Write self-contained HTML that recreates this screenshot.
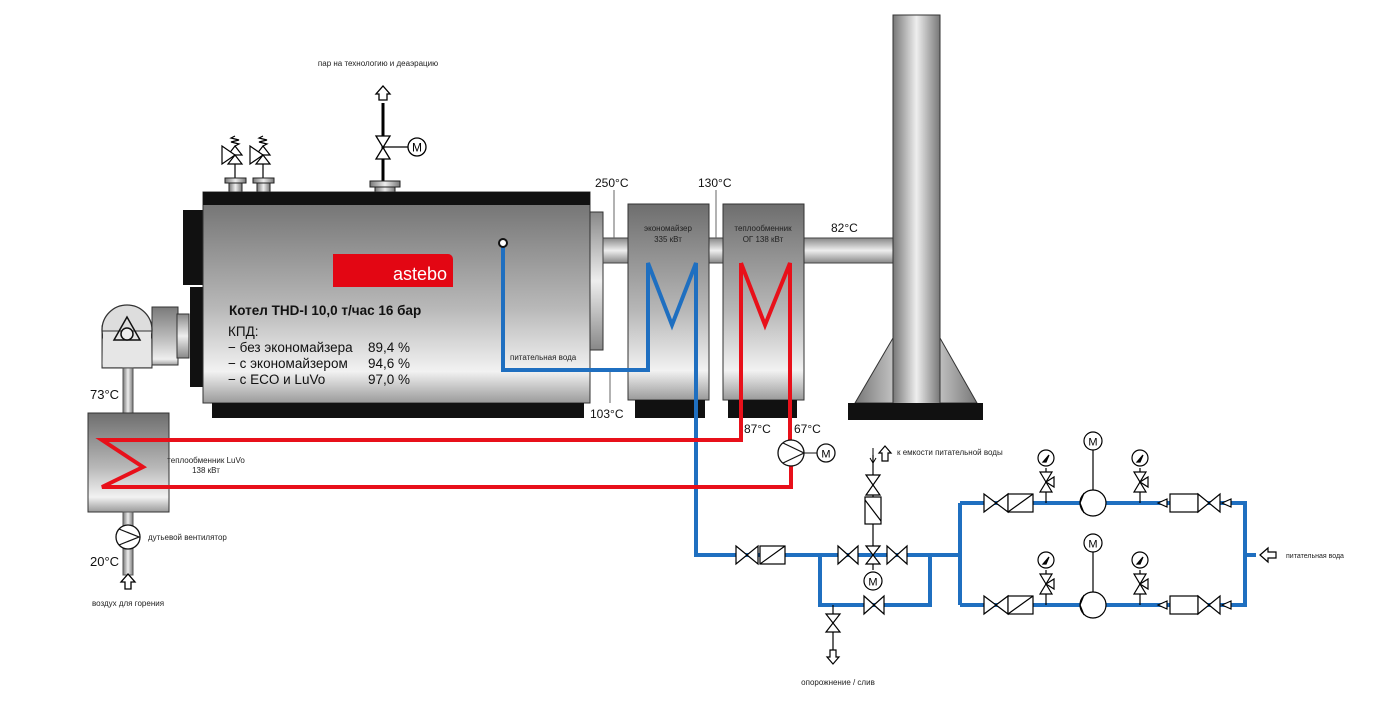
<!DOCTYPE html>
<html><head><meta charset="utf-8"><style>
html,body{margin:0;padding:0;background:#fff;}
svg{display:block;font-family:"Liberation Sans","DejaVu Sans",sans-serif;}
</style></head><body>
<svg width="1386" height="707" viewBox="0 0 1386 707" xmlns="http://www.w3.org/2000/svg">
<defs>
<linearGradient id="gv" x1="0" y1="0" x2="0" y2="1">
<stop offset="0" stop-color="#6e6e6e"/><stop offset="0.55" stop-color="#b8b8b8"/><stop offset="0.85" stop-color="#f2f2f2"/><stop offset="1" stop-color="#9a9a9a"/></linearGradient>
<linearGradient id="gb" x1="0" y1="0" x2="0" y2="1">
<stop offset="0" stop-color="#7a7a7a"/><stop offset="0.6" stop-color="#c4c4c4"/><stop offset="0.9" stop-color="#efefef"/><stop offset="1" stop-color="#a0a0a0"/></linearGradient>
<linearGradient id="gp" x1="0" y1="0" x2="0" y2="1">
<stop offset="0" stop-color="#888"/><stop offset="0.5" stop-color="#eee"/><stop offset="1" stop-color="#888"/></linearGradient>
<linearGradient id="gh" x1="0" y1="0" x2="1" y2="0">
<stop offset="0" stop-color="#777"/><stop offset="0.5" stop-color="#eee"/><stop offset="1" stop-color="#777"/></linearGradient>
</defs>

<text x="378" y="66" font-size="8" text-anchor="middle" fill="#222">пар на технологию и деаэрацию</text>
<path d="M383,100 l-4,0 l0,-6 l-3,0 l7,-8 l7,8 l-3,0 l0,6 z" fill="#fff" stroke="#000" stroke-width="1.3"/>
<line x1="383" y1="103" x2="383" y2="182" stroke="#000" stroke-width="3"/>
<polygon points="376,136 390,136 376,159 390,159" fill="#fff" stroke="#000" stroke-width="1.3"/>
<line x1="383" y1="147" x2="408" y2="147" stroke="#000" stroke-width="1.2"/>
<circle cx="417" cy="147" r="9" fill="#fff" stroke="#000" stroke-width="1.3"/>
<text x="417" y="151.5" font-size="12" text-anchor="middle">M</text>
<rect x="370" y="181" width="30" height="6" fill="url(#gh)" stroke="#222"/>
<rect x="375" y="187" width="20" height="6" fill="url(#gh)" stroke="#222"/>

<g stroke="#000" stroke-width="1.2" fill="#fff">
<path d="M235,136 l-4,2 l8,2 l-8,2 l8,2 l-4,2"/>
<polygon points="228,155 242,155 235,146"/><polygon points="222,146 222,164 235,155"/>
<polygon points="228,164 242,164 235,155" />
<line x1="235" y1="164" x2="235" y2="178"/>
<path d="M263,136 l-4,2 l8,2 l-8,2 l8,2 l-4,2"/>
<polygon points="256,155 270,155 263,146"/><polygon points="250,146 250,164 263,155"/>
<polygon points="256,164 270,164 263,155"/>
<line x1="263" y1="164" x2="263" y2="178"/>
</g>
<rect x="225" y="178" width="21" height="5" fill="url(#gh)" stroke="#222"/>
<rect x="229" y="183" width="13" height="9" fill="url(#gh)" stroke="#222"/>
<rect x="253" y="178" width="21" height="5" fill="url(#gh)" stroke="#222"/>
<rect x="257" y="183" width="13" height="9" fill="url(#gh)" stroke="#222"/>

<rect x="183" y="210" width="21" height="75" fill="#111"/>
<rect x="190" y="287" width="14" height="100" fill="#111"/>
<rect x="203" y="192" width="387" height="211" fill="url(#gv)" stroke="#333"/>
<rect x="203" y="192" width="387" height="13" fill="#111"/>
<rect x="212" y="403" width="372" height="15" fill="#111"/>
<rect x="590" y="212" width="13" height="138" fill="url(#gp)" stroke="#333"/>
<path d="M333,254 h115 a5,5 0 0 1 5,5 v28 h-120 z" fill="#e30613"/>
<text x="447" y="280" font-size="18" fill="#fff" text-anchor="end">astebo</text>
<text x="229" y="315" font-size="13.5" font-weight="bold" fill="#111">Котел THD-I 10,0 т/час 16 бар</text>
<text x="228" y="336" font-size="13.5" fill="#111">КПД:</text>
<g font-size="13.5" fill="#111">
<text x="228" y="352">−  без экономайзера</text><text x="368" y="352">89,4 %</text>
<text x="228" y="368">−  с экономайзером</text><text x="368" y="368">94,6 %</text>
<text x="228" y="384">−  с ECO и LuVo</text><text x="368" y="384">97,0 %</text>
</g>

<rect x="152" y="307" width="26" height="58" fill="url(#gb)" stroke="#333"/>
<rect x="177" y="314" width="12" height="44" fill="url(#gp)" stroke="#333"/>
<rect x="102" y="326" width="50" height="42" fill="url(#gb)" stroke="#333"/>
<circle cx="127" cy="330" r="25" fill="#ddd" stroke="#333" stroke-width="1.3"/>
<rect x="103" y="331" width="48" height="36" fill="#e6e6e6" stroke="none"/>
<line x1="102" y1="331" x2="152" y2="331" stroke="#333"/>
<polygon points="127,317 114,340 140,340" fill="none" stroke="#111" stroke-width="1.5"/>
<circle cx="127" cy="334" r="6" fill="#eee" stroke="#111" stroke-width="1.5"/>
<rect x="123" y="368" width="10" height="45" fill="url(#gh)" stroke="#555"/>
<text x="90" y="399" font-size="13" fill="#111">73°C</text>

<rect x="88" y="413" width="81" height="99" fill="url(#gv)" stroke="#333"/>
<text x="206" y="463" font-size="8" text-anchor="middle" fill="#222">теплообменник LuVo</text>
<text x="206" y="473" font-size="8" text-anchor="middle" fill="#222">138 кВт</text>
<rect x="123" y="512" width="10" height="63" fill="url(#gh)" stroke="#555"/>
<circle cx="128" cy="537" r="12" fill="#fff" stroke="#111" stroke-width="1.3"/>
<path d="M119,529 L139,537 L119,545" fill="none" stroke="#111" stroke-width="1.2"/>
<text x="148" y="540" font-size="8" fill="#222">дутьевой вентилятор</text>
<text x="90" y="566" font-size="13" fill="#111">20°C</text>
<path d="M128,574 l-7,8 l4,0 l0,7 l6,0 l0,-7 l4,0 z" fill="#fff" stroke="#000" stroke-width="1.3"/>
<text x="128" y="606" font-size="8" text-anchor="middle" fill="#222">воздух для горения</text>

<rect x="603" y="238" width="25" height="25" fill="url(#gp)" stroke="#444"/>
<rect x="709" y="238" width="14" height="25" fill="url(#gp)" stroke="#444"/>
<rect x="804" y="238" width="90" height="25" fill="url(#gp)" stroke="#444"/>
<rect x="628" y="204" width="81" height="196" fill="url(#gv)" stroke="#333"/>
<rect x="635" y="400" width="70" height="18" fill="#111"/>
<rect x="723" y="204" width="81" height="196" fill="url(#gv)" stroke="#333"/>
<rect x="728" y="400" width="69" height="18" fill="#111"/>
<text x="668" y="231" font-size="8" text-anchor="middle" fill="#222">экономайзер</text>
<text x="668" y="242" font-size="8" text-anchor="middle" fill="#222">335 кВт</text>
<text x="763" y="231" font-size="8" text-anchor="middle" fill="#222">теплообменник</text>
<text x="763" y="242" font-size="8" text-anchor="middle" fill="#222">ОГ 138 кВт</text>
<g stroke="#666" stroke-width="1"><line x1="614" y1="190" x2="614" y2="238"/><line x1="716" y1="190" x2="716" y2="238"/><line x1="610" y1="370" x2="610" y2="403"/></g>
<text x="595" y="187" font-size="12" fill="#111">250°C</text>
<text x="698" y="187" font-size="12" fill="#111">130°C</text>
<text x="831" y="232" font-size="12" fill="#111">82°C</text>
<text x="590" y="418" font-size="12" fill="#111">103°C</text>

<polygon points="893,338 855,403 977,403 940,338" fill="url(#gh)" stroke="#333"/>
<rect x="893" y="15" width="47" height="390" fill="url(#gh)" stroke="#333"/>
<rect x="848" y="403" width="135" height="17" fill="#111"/>

<g fill="none" stroke="#1f6fc0" stroke-width="4" stroke-linejoin="miter">
<path d="M503,247 V370 H648 V263 L672,325 L696,263 V555 H960"/>
<path d="M820,555 V605 H930 V555"/>
<path d="M960,503 V605 M960,503 H1245 V605 H960 M1245,555 H1256"/>
</g>
<circle cx="503" cy="243" r="4" fill="#fff" stroke="#111" stroke-width="2"/>
<text x="510" y="360" font-size="8" fill="#222">питательная вода</text>

<g fill="none" stroke="#e8101a" stroke-width="4">
<path d="M741,263 L765,325 L790,263 V440"/>
<path d="M741,263 V440 H168"/>
<path d="M168,440 H102 L143,467 L102,487 H168"/>
<path d="M168,487 H791 V466"/>
</g>
<text x="744" y="433" font-size="12" fill="#111">87°C</text>
<text x="794" y="433" font-size="12" fill="#111">67°C</text>
<circle cx="791" cy="453" r="13" fill="#fff" stroke="#111" stroke-width="1.3"/>
<path d="M783,443 L804,453 L783,463" fill="none" stroke="#111" stroke-width="1.2"/>
<line x1="804" y1="453" x2="817" y2="453" stroke="#111"/>
<circle cx="826" cy="453" r="9" fill="#fff" stroke="#111" stroke-width="1.3"/>
<text x="826" y="457.5" font-size="11" text-anchor="middle">M</text>

<g stroke="#000" stroke-width="1.2" fill="#fff">
<polygon points="736,546 758,564 758,546 736,564"/>
<rect x="760" y="546" width="25" height="18"/><line x1="760" y1="564" x2="785" y2="546"/>
<line x1="873" y1="455" x2="873" y2="570"/>
<polygon points="866,475 880,475 866,495 880,495"/>
<rect x="865" y="497" width="16" height="27"/><line x1="865" y1="500" x2="881" y2="521"/>
<polygon points="838,546 858,564 858,546 838,564"/>
<polygon points="887,546 907,564 907,546 887,564"/>
<polygon points="866,546 880,546 873,555"/><polygon points="866,564 880,564 873,555"/>
<circle cx="873" cy="581" r="9"/>
<polygon points="864,596 884,614 884,596 864,614"/>
<line x1="833" y1="605" x2="833" y2="650"/>
<polygon points="826,614 840,614 826,632 840,632"/>
</g>
<text x="873" y="585.5" font-size="11" text-anchor="middle">M</text>
<path d="M873,448 v14 M870,458 l3,5 l3,-5" fill="none" stroke="#000"/>
<path d="M885,446 l-6,7 l3,0 l0,8 l6,0 l0,-8 l3,0 z" fill="#fff" stroke="#000" stroke-width="1.2"/>
<text x="897" y="455" font-size="8" fill="#222">к емкости питательной воды</text>
<path d="M833,664 l-6,-7 l3,0 l0,-7 l6,0 l0,7 l3,0 z" fill="#fff" stroke="#000" stroke-width="1.2"/>
<text x="838" y="685" font-size="8" text-anchor="middle" fill="#222">опорожнение / слив</text>

<g id="row1" stroke="#000" stroke-width="1.2" fill="#fff">
<polygon points="984,494 1008,512 1008,494 984,512"/>
<rect x="1008" y="494" width="25" height="18"/><line x1="1008" y1="512" x2="1033" y2="494"/>
<line x1="1046" y1="503" x2="1046" y2="468"/>
<polygon points="1040,472 1052,472 1040,492 1052,492"/><polygon points="1046,482 1054,477 1054,487"/>
<circle cx="1046" cy="458" r="8"/>
<line x1="1093" y1="490" x2="1093" y2="450"/>
<circle cx="1093" cy="441" r="9"/>
<circle cx="1093" cy="503" r="13"/><path d="M1084,493 L1080,503 L1084,513" fill="none"/>
<line x1="1140" y1="503" x2="1140" y2="468"/>
<polygon points="1134,472 1146,472 1134,492 1146,492"/><polygon points="1140,482 1148,477 1148,487"/>
<circle cx="1140" cy="458" r="8"/>
<polygon points="1158,503 1167,499 1167,507"/>
<rect x="1170" y="494" width="28" height="18"/>
<polygon points="1198,494 1220,512 1220,494 1198,512"/>
<polygon points="1222,503 1231,499 1231,507"/>
</g>
<g stroke="#000" stroke-width="1.2" fill="#111"><path d="M1043,462 l6,-7 l-3,7 z M1137,462 l6,-7 l-3,7 z"/></g>
<text x="1093" y="445.5" font-size="11" text-anchor="middle">M</text>
<use href="#row1" y="102"/>
<g stroke="#000" stroke-width="1.2" fill="#111"><path d="M1043,564 l6,-7 l-3,7 z M1137,564 l6,-7 l-3,7 z"/></g>
<text x="1093" y="547.5" font-size="11" text-anchor="middle">M</text>
<path d="M1260,555 l8,-7 l0,4 l8,0 l0,6 l-8,0 l0,4 z" fill="#fff" stroke="#000" stroke-width="1.2"/>
<text x="1286" y="558" font-size="7" fill="#222">питательная вода</text>
</svg>
</body></html>
